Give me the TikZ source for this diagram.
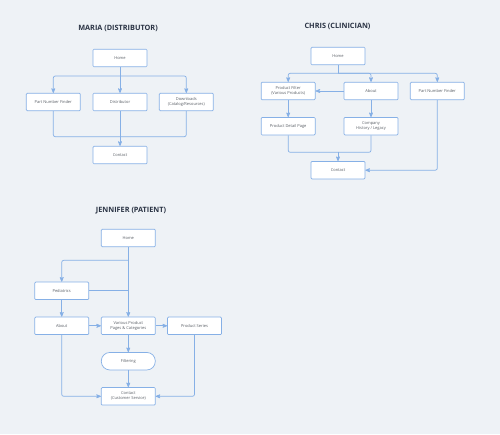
\documentclass[tikz,border=0pt]{standalone}
\usepackage{fontspec}
\setmainfont{Open Sans}
\usepackage{tikz}
\usetikzlibrary{arrows}

\definecolor{bgc}{HTML}{EEF2F6}
\definecolor{edgec}{HTML}{86B0E6}
\definecolor{textc}{HTML}{5A5F66}
\definecolor{titlec}{HTML}{2A3344}

\begin{document}
\begin{tikzpicture}[x=1pt,y=-1pt,>=stealth',semithick,
	page/.style={draw=edgec,fill=white,rounded corners=1pt,line width=0.7pt,minimum width=54pt,minimum height=17.5pt,inner sep=0pt,align=center,text=textc,font=\fontsize{4}{5}\selectfont},
	pill/.style={page,rounded corners=8.5pt},
	persona/.style={text=titlec,font=\fontsize{7.3}{8}\selectfont\bfseries},
	line/.style={draw=edgec,line width=0.7pt,rounded corners=2pt},
	link/.style={line,->}]
	\useasboundingbox [fill=bgc] (0,0) rectangle (500,434);

	% Maria
	\node [persona]	(m_title)	at (118,28)		{MARIA (DISTRIBUTOR)};
	\node [page]	(m_home)	at (120,58)		{Home};
	\node [page]	(m_pnf)		at (53.3,102)	{Part Number Finder};
	\node [page]	(m_dist)	at (120,102)	{Distributor};
	\node [page]	(m_dl)		at (186.3,102)	{Downloads\\(Catalog/Resources)};
	\node [page]	(m_contact)	at (120,155)	{Contact};
	\coordinate (m_top) at (120,76);
	\coordinate (m_bot) at (120,136.7);

	\draw [link] (m_home) -- (m_dist);
	\draw [link] (m_top) -| (m_pnf);
	\draw [link] (m_top) -| (m_dl);
	\draw [line] (m_pnf) |- (m_bot);
	\draw [line] (m_dl) |- (m_bot);
	\draw [link] (m_dist) -- (m_contact);

	% Chris
	\node [persona]	(c_title)	at (337.5,26)	{CHRIS (CLINICIAN)};
	\node [page]	(c_home)	at (338,56)		{Home};
	\node [page]	(c_filter)	at (288.2,91)	{Product Filter\\(Various Products)};
	\node [page]	(c_about)	at (371,91)		{About};
	\node [page]	(c_pnf)		at (437.3,91)	{Part Number Finder};
	\node [page]	(c_detail)	at (288.2,126.2)	{Product Detail Page};
	\node [page]	(c_history)	at (371,126.2)	{Company\\History / Legacy};
	\node [page]	(c_contact)	at (338,170.2)	{Contact};
	\coordinate (c_top) at (338,73.3);
	\coordinate (c_bot) at (338,152.3);

	\draw [line] (c_home) -- (c_top);
	\draw [link] (c_top) -| (c_filter);
	\draw [link] (c_top) -| (c_about);
	\draw [link] (c_top) -| (c_pnf);
	\draw [link] (c_about) -- (c_filter);
	\draw [link] (c_filter) -- (c_detail);
	\draw [link] (c_about) -- (c_history);
	\draw [line] (c_detail) |- (c_bot);
	\draw [line] (c_history) |- (c_bot);
	\draw [link] (c_bot) -- (c_contact);
	\draw [link] (c_pnf) |- (c_contact);

	% Jennifer
	\node [persona]	(j_title)	at (131,210.5)	{JENNIFER (PATIENT)};
	\node [page]	(j_home)	at (128.3,238)	{Home};
	\node [page]	(j_ped)		at (61.7,290.8)	{Pediatrics};
	\node [page]	(j_about)	at (61.7,325.8)	{About};
	\node [page]	(j_various)	at (128.3,325.8)	{Various Product\\Pages \& Categories};
	\node [page]	(j_series)	at (194.5,325.8)	{Product Series};
	\node [pill]	(j_filter)	at (128.3,361.2)	{Filtering};
	\node [page]	(j_contact)	at (128.3,396.3)	{Contact\\(Customer Service)};
	\coordinate (j_split) at (128.3,260.3);
	\coordinate (j_join) at (128.3,290.8);

	\draw [link] (j_home) -- (j_various);
	\draw [link] (j_split) -| (j_ped);
	\draw [line] (j_ped) -- (j_join);
	\draw [link] (j_ped) -- (j_about);
	\draw [link] (j_about) -- (j_various);
	\draw [link] (j_various) -- (j_series);
	\draw [link] (j_various) -- (j_filter);
	\draw [link] (j_filter) -- (j_contact);
	\draw [link] (j_about) |- (j_contact);
	\draw [link] (j_series) |- (j_contact);
\end{tikzpicture}
\end{document}
